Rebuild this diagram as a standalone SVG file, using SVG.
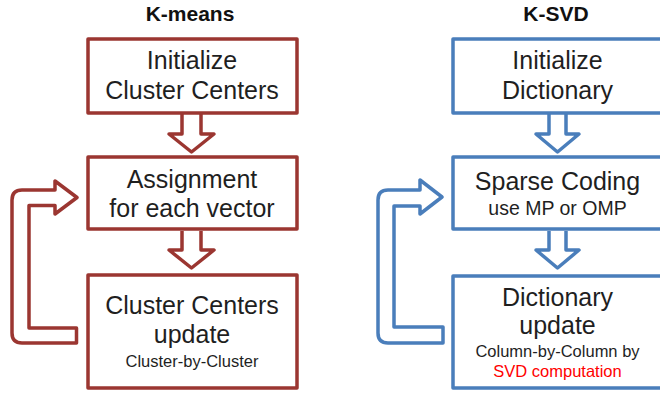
<svg xmlns="http://www.w3.org/2000/svg" width="660" height="396" viewBox="0 0 660 396">
<style>
.bg{fill:#ffffff}
.red{fill:#ffffff;stroke:#9B3631;stroke-width:3.5;stroke-linejoin:round}
.blue{fill:#ffffff;stroke:#4A7EBB;stroke-width:3.5;stroke-linejoin:round}
text{font-family:"Liberation Sans",Arial,sans-serif;fill:#1f1f1f;text-anchor:middle}
.title{font-weight:bold;font-size:21px;fill:#111}
.big{font-size:25px}
.mid{font-size:19.5px}
.small{font-size:16.5px}
.hl{fill:#FF0000}
</style>
<rect class="bg" x="0" y="0" width="660" height="396"/>
<text class="title" x="190" y="21">K-means</text>
<text class="title" x="556" y="21">K-SVD</text>

<g id="connectors">
  <path class="red" d="M182,114 L182,134 L169,134 L191.5,152 L214,134 L201,134 L201,114"/>
  <path class="red" d="M182,231 L182,250 L169,250 L191.5,268 L214,250 L201,250 L201,231"/>
  <path class="red" d="M76.5,328 L29,328 L29,205.5 L55,205.5 L55,214 L77,197.5 L55,181 L55,190 L22,190 Q12,190 12,200 L12,333 Q12,343 22,343 L76.5,343 Z"/>
  <path class="blue" d="M549,114 L549,134 L536,134 L557.5,152 L579,134 L566,134 L566,114"/>
  <path class="blue" d="M549,231 L549,250 L536,250 L557.5,268 L579,250 L566,250 L566,231"/>
  <path class="blue" d="M443,327 L394,327 L394,206 L420,206 L420,214 L442,197 L420,180 L420,190 L388,190 Q378,190 378,200 L378,333 Q378,343 388,343 L443,343 Z"/>
</g>

<g id="km-init">
  <rect class="red" x="88" y="39" width="209" height="74"/>
  <text class="big" x="192" y="69">Initialize</text>
  <text class="big" x="192" y="99">Cluster Centers</text>
</g>
<g id="km-assign">
  <rect class="red" x="88" y="157" width="209" height="72"/>
  <text class="big" x="192" y="188">Assignment</text>
  <text class="big" x="192" y="217">for each vector</text>
</g>
<g id="km-update">
  <rect class="red" x="88" y="275" width="209" height="113"/>
  <text class="big" x="192" y="314">Cluster Centers</text>
  <text class="big" x="192" y="343">update</text>
  <text class="small" x="192" y="367">Cluster-by-Cluster</text>
</g>

<g id="ksvd-init">
  <rect class="blue" x="453" y="39" width="209" height="74"/>
  <text class="big" x="557.5" y="69">Initialize</text>
  <text class="big" x="557.5" y="99">Dictionary</text>
</g>
<g id="ksvd-sparse">
  <rect class="blue" x="453" y="157" width="209" height="72"/>
  <text class="big" x="557.5" y="190">Sparse Coding</text>
  <text class="mid" x="557.5" y="215">use MP or OMP</text>
</g>
<g id="ksvd-update">
  <rect class="blue" x="453" y="276" width="209" height="112"/>
  <text class="big" x="557.5" y="306">Dictionary</text>
  <text class="big" x="557.5" y="334">update</text>
  <text class="small" x="557.5" y="357">Column-by-Column by</text>
  <text class="small hl" x="557.5" y="377">SVD computation</text>
</g>
</svg>
